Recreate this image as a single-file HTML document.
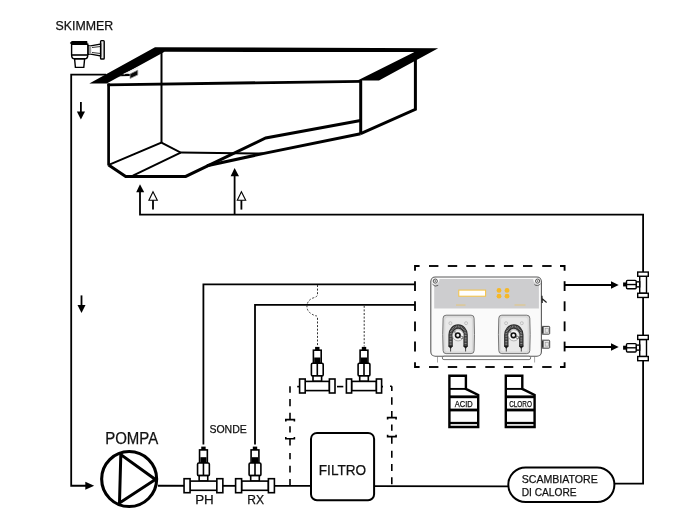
<!DOCTYPE html>
<html><head><meta charset="utf-8">
<style>
html,body{margin:0;padding:0;background:#fff;}
body{width:700px;height:520px;overflow:hidden;}
svg{display:block;will-change:transform;}
text{font-family:"Liberation Sans",sans-serif;fill:#111;stroke:#111;stroke-width:0.25px;}
</style></head>
<body>
<svg width="700" height="520" viewBox="0 0 700 520">
<rect width="700" height="520" fill="#fff"/>

<!-- ============ LABELS ============ -->
<text x="55.6" y="29.6" font-size="12.7" textLength="57.6" lengthAdjust="spacingAndGlyphs">SKIMMER</text>
<text x="105.2" y="444.2" font-size="16" textLength="53" lengthAdjust="spacingAndGlyphs">POMPA</text>
<text x="209.4" y="432.6" font-size="11.3" textLength="37.4" lengthAdjust="spacingAndGlyphs">SONDE</text>
<text x="195.2" y="504.3" font-size="12.3" textLength="18.6" lengthAdjust="spacingAndGlyphs">PH</text>
<text x="247.2" y="504.3" font-size="12.3" textLength="16.8" lengthAdjust="spacingAndGlyphs">RX</text>

<!-- ============ POOL ============ -->
<g fill="none" stroke="#000" stroke-linejoin="miter">
  <polygon fill="#000" stroke="none" points="89.3,83.4 155,47.2 438.2,48.3 379,80.4 357.5,80.4 414.5,52.1 164.6,51.8 106.7,83.4"/>
  <line x1="107.5" y1="84.8" x2="362" y2="81.3" stroke-width="2.8"/>
  <line x1="108.6" y1="83.4" x2="108.6" y2="165.5" stroke-width="2.7"/>
  <polyline points="108.6,165 125.7,176.4 185.7,176.4 265.7,138 360.6,120.5" stroke-width="3"/>
  <polyline points="207,165.8 262.9,153.6 360.6,133.8" stroke-width="3"/>
  <line x1="161.5" y1="51.7" x2="161.5" y2="142.8" stroke-width="2"/>
  <polyline points="110,164.3 161.4,142.6 180.7,152.6 262.9,153.6" stroke-width="2"/>
  <line x1="180.7" y1="152.6" x2="132.9" y2="175.7" stroke-width="2"/>
  <line x1="360.7" y1="80.5" x2="360.7" y2="134" stroke-width="3"/>
  <polyline points="415.4,52.3 415.4,109.3 360.7,133.6" stroke-width="3"/>
</g>


<!-- ============ SKIMMER ICON ============ -->
<g stroke="#000" stroke-width="1.4" fill="#fff">
  <rect x="100.6" y="40.6" width="3.6" height="18.4" rx="0.8" fill="#e8e8e8"/>
  <path d="M88,45.6 L92,45.6 L100.6,44 L100.6,56 L92,54.4 L88,54.4 Z" fill="#fff"/>
  <line x1="92" y1="47.5" x2="100.6" y2="46.5" stroke-width="0.8"/>
  <line x1="92" y1="52.5" x2="100.6" y2="53.5" stroke-width="0.8"/>
  <rect x="89" y="45.6" width="2.2" height="8.8" fill="#999" stroke="none"/>
  <path d="M71.6,44.2 L87.8,44.2 L87.8,55 Q87.8,58.8 84.8,58.8 L74.6,58.8 Q71.6,58.8 71.6,55 Z"/>
  <line x1="71.6" y1="55" x2="87.8" y2="55" stroke-width="1.6"/>
  <path d="M74.6,59 L84.6,59 L83.8,67.4 L75.4,67.4 Z"/>
</g>
<path d="M71.8,41 L87.2,41 L87.6,44.6 L71.4,44.6 L69.8,43 Z" fill="#000"/>

<!-- skimmer mouth on rim -->
<polygon points="117.5,77.6 124.2,73.6 130.4,74.0 130.4,76.0 120.3,76.3" fill="#000"/>
<line x1="123.6" y1="74.3" x2="138.4" y2="67.6" stroke="#eaeaea" stroke-width="1.1"/>
<polygon points="130,73.9 137.8,70.1 137.8,74.9 130,78.6" fill="#0a0a0a" stroke="#a0a0a0" stroke-width="0.8"/>

<!-- ============ PIPES ============ -->
<g fill="none" stroke="#000" stroke-width="1.8">
  <!-- skimmer line -->
  <polyline points="106,74.7 71.2,74.7 71.2,485.75 87,485.75"/>
  <!-- return line -->
  <polyline points="140,192 140,214.6 643.1,214.6 643.1,483.7 615,483.7"/>
  <line x1="234.6" y1="176" x2="234.6" y2="214.6"/>
  <!-- main line -->
  <line x1="158" y1="485.75" x2="312" y2="485.8"/>
  <line x1="373" y1="486.2" x2="509" y2="486.35"/>
  <!-- probe cables -->
  <polyline points="203.4,444.4 203.4,284.3 415,284.3"/>
  <polyline points="255,444.4 255,304.8 415,304.8"/>
  <!-- outputs -->
  <line x1="564.6" y1="285" x2="612" y2="285"/>
  <line x1="564.6" y1="347" x2="612" y2="347"/>
</g>
<!-- arrow heads -->
<g fill="#000">
  <polygon points="136.2,192.3 144.2,192.3 140,184.2"/>
  <polygon points="230.6,176.3 239,176.3 234.6,168.1"/>
  <polygon points="85.3,481.8 85.3,489.7 94.2,485.75"/>
  <polygon points="76.9,111.5 85,111.5 80.9,119.6"/>
  <polygon points="77.5,305 85.5,305 81.5,313"/>
  <polygon points="611,281.2 611,288.7 618.7,284.9"/>
  <polygon points="611,343.3 611,350.8 618.7,347"/>
</g>
<g stroke="#000" stroke-width="1.8" fill="none">
  <line x1="80.9" y1="101.9" x2="80.9" y2="112"/>
  <line x1="81.5" y1="295.4" x2="81.5" y2="305.5"/>
</g>
<!-- hollow arrows -->
<g stroke="#000" stroke-width="1.1" fill="#fff">
  <polygon points="148.9,200.3 157.3,200.3 153,191.7"/>
  <polygon points="237.3,200.3 245.7,200.3 241.4,191.7"/>
</g>
<g stroke="#000" stroke-width="1.8">
  <line x1="153" y1="200.3" x2="153" y2="209.6"/>
  <line x1="241.4" y1="200.3" x2="241.4" y2="209.6"/>
</g>

<!-- ============ DASHED BOX ============ -->
<g stroke="#000" stroke-width="1.85" fill="none">
<polyline points="419.6,266 415,266 415,270.8"/>
<polyline points="560,266 564.6,266 564.6,270.8"/>
<polyline points="415,362.2 415,367 419.6,367"/>
<polyline points="564.6,362.2 564.6,367 560,367"/>
<line x1="429" y1="266" x2="438.4" y2="266"/>
<line x1="429" y1="367" x2="438.4" y2="367"/>
<line x1="447.8" y1="266" x2="457.2" y2="266"/>
<line x1="447.8" y1="367" x2="457.2" y2="367"/>
<line x1="466.3" y1="266" x2="475.7" y2="266"/>
<line x1="466.3" y1="367" x2="475.7" y2="367"/>
<line x1="485.3" y1="266" x2="494.7" y2="266"/>
<line x1="485.3" y1="367" x2="494.7" y2="367"/>
<line x1="503.9" y1="266" x2="513.3" y2="266"/>
<line x1="503.9" y1="367" x2="513.3" y2="367"/>
<line x1="523" y1="266" x2="532.4" y2="266"/>
<line x1="523" y1="367" x2="532.4" y2="367"/>
<line x1="542.2" y1="266" x2="551.6" y2="266"/>
<line x1="542.2" y1="367" x2="551.6" y2="367"/>
<line x1="415" y1="281.2" x2="415" y2="291.0"/>
<line x1="564.6" y1="281.2" x2="564.6" y2="291.0"/>
<line x1="415" y1="301.3" x2="415" y2="311.1"/>
<line x1="564.6" y1="301.3" x2="564.6" y2="311.1"/>
<line x1="415" y1="321.4" x2="415" y2="331.2"/>
<line x1="564.6" y1="321.4" x2="564.6" y2="331.2"/>
<line x1="415" y1="341.6" x2="415" y2="351.4"/>
<line x1="564.6" y1="341.6" x2="564.6" y2="351.4"/>
</g>
<!-- ============ BYPASS ============ -->
<g stroke="#000" stroke-width="1.6" fill="none">
<line x1="290" y1="386.2" x2="290" y2="392.7"/>
<line x1="290" y1="399" x2="290" y2="406.2"/>
<line x1="290" y1="412.8" x2="290" y2="419.6"/>
<line x1="290" y1="426.2" x2="290" y2="432.4"/>
<line x1="290" y1="438.7" x2="290" y2="445.6"/>
<line x1="290" y1="453" x2="290" y2="459.3"/>
<line x1="290" y1="465.7" x2="290" y2="472.6"/>
<line x1="290" y1="478.9" x2="290" y2="485.5"/>
<line x1="391.8" y1="386.3" x2="391.8" y2="391"/>
<line x1="391.8" y1="397.3" x2="391.8" y2="404.8"/>
<line x1="391.8" y1="411.1" x2="391.8" y2="417.5"/>
<line x1="391.8" y1="424.4" x2="391.8" y2="430.7"/>
<line x1="391.8" y1="436.5" x2="391.8" y2="443.8"/>
<line x1="391.8" y1="450.8" x2="391.8" y2="457.7"/>
<line x1="391.8" y1="464" x2="391.8" y2="471"/>
<line x1="391.8" y1="477.3" x2="391.8" y2="484.3"/>
<line x1="390" y1="386.3" x2="391.8" y2="386.3"/>
<polyline points="285.8,421.6 285.8,419.6 294.4,419.6 294.4,421.6"/>
<polyline points="285.8,436.9 285.8,438.8 294.4,438.8 294.4,436.9"/>
<polyline points="387.6,419.6 387.6,417.6 396.1,417.6 396.1,419.6"/>
<polyline points="387.6,434.8 387.6,436.6 396.1,436.6 396.1,434.8"/>
<line x1="297.2" y1="386.6" x2="299.6" y2="386.6"/>
<line x1="337" y1="386.6" x2="343.3" y2="386.6"/>
<line x1="381.5" y1="386.6" x2="383" y2="386.6"/>
</g>
<g stroke="#333" stroke-width="1" fill="none" stroke-dasharray="2 1.6">
<path d="M317.5,285 L317.5,294.5 Q317.5,296.8 313.2,297.9 Q308,299.8 307,305 Q306.4,310.5 311,313.6 Q314.5,315.8 316.5,315.9 Q317.5,316.2 317.5,318 L317.5,346.5"/>
<line x1="364.2" y1="305.8" x2="364.2" y2="346.5"/>
</g>
<!-- ============ FILTRO ============ -->
<rect x="311" y="432.9" width="63.1" height="67.3" rx="6" fill="#fff" stroke="#000" stroke-width="2"/>
<text x="318.8" y="475" font-size="14.8" textLength="47.4" lengthAdjust="spacingAndGlyphs">FILTRO</text>
<!-- ============ SCAMBIATORE ============ -->
<rect x="508.3" y="467.4" width="106.1" height="34.6" rx="17.3" fill="#fff" stroke="#000" stroke-width="2"/>
<text x="521.7" y="482.9" font-size="10.7" textLength="76.1" lengthAdjust="spacingAndGlyphs">SCAMBIATORE</text>
<text x="521.7" y="496.1" font-size="10.7" textLength="54.9" lengthAdjust="spacingAndGlyphs">DI CALORE</text>
<!-- ============ TANKS ============ -->
<g stroke="#000" stroke-width="2.4" fill="#fff" stroke-linejoin="miter">
<path d="M449.4,427 L449.4,375.8 L465.9,375.8 L465.9,388.9 L478.2,395 L478.2,427 Z"/>
<line x1="449.4" y1="388.9" x2="465.9" y2="388.9" stroke-width="1.9"/>
<line x1="449.4" y1="396.8" x2="478.2" y2="396.8" stroke-width="2.8"/>
<line x1="449.4" y1="410" x2="478.2" y2="410" stroke-width="2.8"/>
<line x1="449.4" y1="423" x2="478.2" y2="423" stroke-width="2.3"/>
</g>
<text x="454.8" y="406.9" font-size="8.2" textLength="17.9" lengthAdjust="spacingAndGlyphs">ACID</text>
<g stroke="#000" stroke-width="2.4" fill="#fff" stroke-linejoin="miter">
<path d="M505.8,427 L505.8,375.8 L522.3,375.8 L522.3,388.9 L534.6,395 L534.6,427 Z"/>
<line x1="505.8" y1="388.9" x2="522.3" y2="388.9" stroke-width="1.9"/>
<line x1="505.8" y1="396.8" x2="534.6" y2="396.8" stroke-width="2.8"/>
<line x1="505.8" y1="410" x2="534.6" y2="410" stroke-width="2.8"/>
<line x1="505.8" y1="423" x2="534.6" y2="423" stroke-width="2.3"/>
</g>
<text x="509.2" y="406.9" font-size="8.2" textLength="22.7" lengthAdjust="spacingAndGlyphs">CLORO</text>
<!-- ============ CONTROLLER ============ -->
<g>
<rect x="541.5" y="326.4" width="8.2" height="7.8" rx="0.8" fill="#e6e6e6" stroke="#444" stroke-width="1"/>
<rect x="541.5" y="340.2" width="8.2" height="8.0" rx="0.8" fill="#e6e6e6" stroke="#444" stroke-width="1"/>
<rect x="542" y="326.9" width="1.6" height="6.8" fill="#333"/><rect x="545.2" y="328.4" width="3.2" height="3.8" fill="none" stroke="#999" stroke-width="0.6"/>
<rect x="542" y="340.7" width="1.6" height="7.0" fill="#333"/><rect x="545.2" y="342.3" width="3.2" height="3.8" fill="none" stroke="#999" stroke-width="0.6"/>
<line x1="437.5" y1="356.5" x2="437.5" y2="362.5" stroke="#aaa" stroke-width="1"/>
<line x1="534.6" y1="356.5" x2="534.6" y2="362.5" stroke="#aaa" stroke-width="1"/>
<rect x="430.8" y="277" width="110.6" height="79.3" rx="4.5" fill="#fafafa" stroke="#5a5a5a" stroke-width="1.1"/>
<rect x="442.3" y="356.2" width="88.4" height="3.4" rx="1.7" fill="#fff" stroke="#666" stroke-width="0.9"/>
<path d="M439.4,279.1 L533.3,279.1 A5,5 0 0 0 538.9,284.4 L538.9,308.4 L434.2,308.4 L434.2,284.4 A5,5 0 0 0 439.4,279.1 Z" fill="#cdcdcf"/>
<circle cx="435.3" cy="281.1" r="2.1" fill="#f0f0f0" stroke="#444" stroke-width="0.9"/>
<circle cx="435.3" cy="281.1" r="0.8" fill="#666"/>
<circle cx="537.6" cy="281.1" r="2.1" fill="#f0f0f0" stroke="#444" stroke-width="0.9"/>
<circle cx="537.6" cy="281.1" r="0.8" fill="#666"/>
<path d="M432.5,284.2 A4.2,4.2 0 0 0 438.2,285.4" fill="none" stroke="#555" stroke-width="0.9"/>
<path d="M534.4,284.6 A4.2,4.2 0 0 0 540.6,283.6" fill="none" stroke="#555" stroke-width="0.9"/>
<rect x="458.8" y="290.1" width="26.8" height="6.1" fill="#fff" stroke="#f5c242" stroke-width="1"/>
<circle cx="499" cy="290.4" r="2.4" fill="#f5b82a"/>
<circle cx="499" cy="296.2" r="2.4" fill="#f5b82a"/>
<circle cx="507" cy="290.4" r="2.4" fill="#f5b82a"/>
<circle cx="507" cy="296.2" r="2.4" fill="#f5b82a"/>
<rect x="456" y="304.3" width="9.5" height="1.5" fill="#e6c56e" opacity="0.6"/>
<rect x="514.5" y="304.3" width="11" height="1.4" fill="#e6c56e" opacity="0.6"/>
<path d="M541.9,295.8 L542.2,303 M541.9,298.6 L546.6,302.4" fill="none" stroke="#222" stroke-width="1.3"/>
<path d="M446.1,315.2 L471.1,315.2 Q474.1,315.2 474.1,318.2 Q474.9,334.4 474.1,350.6 Q474.1,353.6 471.1,353.6 L446.1,353.6 Q443.1,353.6 443.1,350.6 Q442.3,334.4 443.1,318.2 Q443.1,315.2 446.1,315.2 Z" fill="#d9d9d9" stroke="#6a6a6a" stroke-width="0.9"/>
<rect x="445.3" y="317.4" width="26.6" height="34" rx="2.5" fill="#e9e9e9" stroke="none"/>
<circle cx="450.4" cy="323.2" r="1.5" fill="none" stroke="#b0b0b0" stroke-width="0.7"/>
<circle cx="466.1" cy="323.2" r="1.5" fill="none" stroke="#b0b0b0" stroke-width="0.7"/>
<path d="M450.6,346.7 L450.6,334.8 A7.5,8.3 0 0 1 465.6,334.8 L465.6,346.7" fill="none" stroke="#2f2f2f" stroke-width="4.4"/>
<path d="M450.6,346.7 L450.6,334.8 A7.5,8.3 0 0 1 465.6,334.8 L465.6,346.7" fill="none" stroke="#8f8f8f" stroke-width="2" stroke-dasharray="0.9 0.7"/>
<circle cx="458.1" cy="335.3" r="5.6" fill="#f4f4f4" stroke="#8a8a8a" stroke-width="0.6"/>
<circle cx="457.8" cy="335.3" r="2.3" fill="none" stroke="#111" stroke-width="1.6"/>
<circle cx="461.7" cy="337.4" r="1.2" fill="none" stroke="#444" stroke-width="0.7"/>
<circle cx="454.7" cy="332.0" r="0.8" fill="none" stroke="#666" stroke-width="0.6"/>
<path d="M448.2,345.7 L453.0,345.7 L450.6,349.1 Z" fill="#1a1a1a"/>
<line x1="450.6" y1="348.2" x2="450.6" y2="351.5" stroke="#333" stroke-width="0.9"/>
<path d="M463.2,345.7 L468.0,345.7 L465.6,349.1 Z" fill="#1a1a1a"/>
<line x1="465.6" y1="348.2" x2="465.6" y2="351.5" stroke="#333" stroke-width="0.9"/>
<path d="M501.8,315.2 L526.8,315.2 Q529.8,315.2 529.8,318.2 Q530.6,334.4 529.8,350.6 Q529.8,353.6 526.8,353.6 L501.8,353.6 Q498.8,353.6 498.8,350.6 Q498.0,334.4 498.8,318.2 Q498.8,315.2 501.8,315.2 Z" fill="#d9d9d9" stroke="#6a6a6a" stroke-width="0.9"/>
<rect x="501.0" y="317.4" width="26.6" height="34" rx="2.5" fill="#e9e9e9" stroke="none"/>
<circle cx="506.1" cy="323.2" r="1.5" fill="none" stroke="#b0b0b0" stroke-width="0.7"/>
<circle cx="521.8" cy="323.2" r="1.5" fill="none" stroke="#b0b0b0" stroke-width="0.7"/>
<path d="M506.3,346.7 L506.3,334.8 A7.5,8.3 0 0 1 521.3,334.8 L521.3,346.7" fill="none" stroke="#2f2f2f" stroke-width="4.4"/>
<path d="M506.3,346.7 L506.3,334.8 A7.5,8.3 0 0 1 521.3,334.8 L521.3,346.7" fill="none" stroke="#8f8f8f" stroke-width="2" stroke-dasharray="0.9 0.7"/>
<circle cx="513.8" cy="335.3" r="5.6" fill="#f4f4f4" stroke="#8a8a8a" stroke-width="0.6"/>
<circle cx="513.5" cy="335.3" r="2.3" fill="none" stroke="#111" stroke-width="1.6"/>
<circle cx="517.4" cy="337.4" r="1.2" fill="none" stroke="#444" stroke-width="0.7"/>
<circle cx="510.4" cy="332.0" r="0.8" fill="none" stroke="#666" stroke-width="0.6"/>
<path d="M503.9,345.7 L508.7,345.7 L506.3,349.1 Z" fill="#1a1a1a"/>
<line x1="506.3" y1="348.2" x2="506.3" y2="351.5" stroke="#333" stroke-width="0.9"/>
<path d="M518.9,345.7 L523.7,345.7 L521.3,349.1 Z" fill="#1a1a1a"/>
<line x1="521.3" y1="348.2" x2="521.3" y2="351.5" stroke="#333" stroke-width="0.9"/>
</g>
<!-- ============ PROBES ============ -->
<g stroke="#000" stroke-width="1.6" fill="#fff">
<rect x="199.55" y="449.90" width="7.8" height="13.2"/>
<rect x="200.35" y="457.20" width="6.2" height="5.7" fill="#000" stroke="none"/>
<rect x="201.25" y="446.60" width="4.4" height="3.5" fill="#000" stroke="none"/>
<rect x="197.55" y="463.00" width="11.8" height="12.6" rx="1.2"/>
<line x1="203.45" y1="463.00" x2="203.45" y2="475.60"/>
<rect x="199.15" y="475.60" width="8.6" height="5.4"/>
<rect x="190.05" y="481.10" width="26.80" height="9.2"/>
<rect x="184.05" y="478.70" width="6.00" height="14"/>
<rect x="216.85" y="478.70" width="6.00" height="14"/>
</g>
<g stroke="#000" stroke-width="1.6" fill="#fff">
<rect x="251.10" y="449.90" width="7.8" height="13.2"/>
<rect x="251.90" y="457.20" width="6.2" height="5.7" fill="#000" stroke="none"/>
<rect x="252.80" y="446.60" width="4.4" height="3.5" fill="#000" stroke="none"/>
<rect x="249.10" y="463.00" width="11.8" height="12.6" rx="1.2"/>
<line x1="255.00" y1="463.00" x2="255.00" y2="475.60"/>
<rect x="250.70" y="475.60" width="8.6" height="5.4"/>
<rect x="241.60" y="481.10" width="26.80" height="9.2"/>
<rect x="235.60" y="478.70" width="6.00" height="14"/>
<rect x="268.40" y="478.70" width="6.00" height="14"/>
</g>
<g stroke="#000" stroke-width="1.6" fill="#fff">
<rect x="313.40" y="350.20" width="7.8" height="13.2"/>
<rect x="314.20" y="357.50" width="6.2" height="5.7" fill="#000" stroke="none"/>
<rect x="315.10" y="346.90" width="4.4" height="3.5" fill="#000" stroke="none"/>
<rect x="311.40" y="363.30" width="11.8" height="12.6" rx="1.2"/>
<line x1="317.30" y1="363.30" x2="317.30" y2="375.90"/>
<rect x="313.00" y="375.90" width="8.6" height="5.4"/>
<rect x="305.20" y="381.40" width="24.20" height="9.2"/>
<rect x="299.60" y="379.00" width="5.60" height="14"/>
<rect x="329.40" y="379.00" width="5.60" height="14"/>
</g>
<g stroke="#000" stroke-width="1.6" fill="#fff">
<rect x="360.10" y="350.20" width="7.8" height="13.2"/>
<rect x="360.90" y="357.50" width="6.2" height="5.7" fill="#000" stroke="none"/>
<rect x="361.80" y="346.90" width="4.4" height="3.5" fill="#000" stroke="none"/>
<rect x="358.10" y="363.30" width="11.8" height="12.6" rx="1.2"/>
<line x1="364.00" y1="363.30" x2="364.00" y2="375.90"/>
<rect x="359.70" y="375.90" width="8.6" height="5.4"/>
<rect x="351.60" y="381.40" width="24.80" height="9.2"/>
<rect x="346.40" y="379.00" width="5.20" height="14"/>
<rect x="376.40" y="379.00" width="5.20" height="14"/>
</g>
<!-- ============ INJECTORS ============ -->
<g stroke="#000" stroke-width="1.4" fill="#fff">
<rect x="639.70" y="276.25" width="6.8" height="17"/>
<rect x="637.70" y="272.05" width="10.6" height="4.2"/>
<rect x="637.70" y="293.25" width="10.6" height="4.2"/>
<rect x="636.20" y="281.85" width="3.5" height="5"/>
<rect x="626.50" y="280.35" width="9.7" height="8.4" rx="1"/>
<line x1="626.50" y1="284.55" x2="636.20" y2="284.55"/>
<rect x="623.10" y="282.45" width="3.4" height="4" fill="#000" stroke="none"/>
</g>
<g stroke="#000" stroke-width="1.4" fill="#fff">
<rect x="639.70" y="339.50" width="6.8" height="17"/>
<rect x="637.70" y="335.30" width="10.6" height="4.2"/>
<rect x="637.70" y="356.50" width="10.6" height="4.2"/>
<rect x="636.20" y="345.10" width="3.5" height="5"/>
<rect x="626.50" y="343.60" width="9.7" height="8.4" rx="1"/>
<line x1="626.50" y1="347.80" x2="636.20" y2="347.80"/>
<rect x="623.10" y="345.70" width="3.4" height="4" fill="#000" stroke="none"/>
</g>

<!-- ============ PUMP ============ -->
<circle cx="129.15" cy="479.05" r="27.5" fill="#fff" stroke="#000" stroke-width="3.1"/>
<polygon points="120.8,454.6 119.5,503 155.4,479.5" fill="none" stroke="#000" stroke-width="3" stroke-linejoin="miter"/>

</svg>
</body></html>
